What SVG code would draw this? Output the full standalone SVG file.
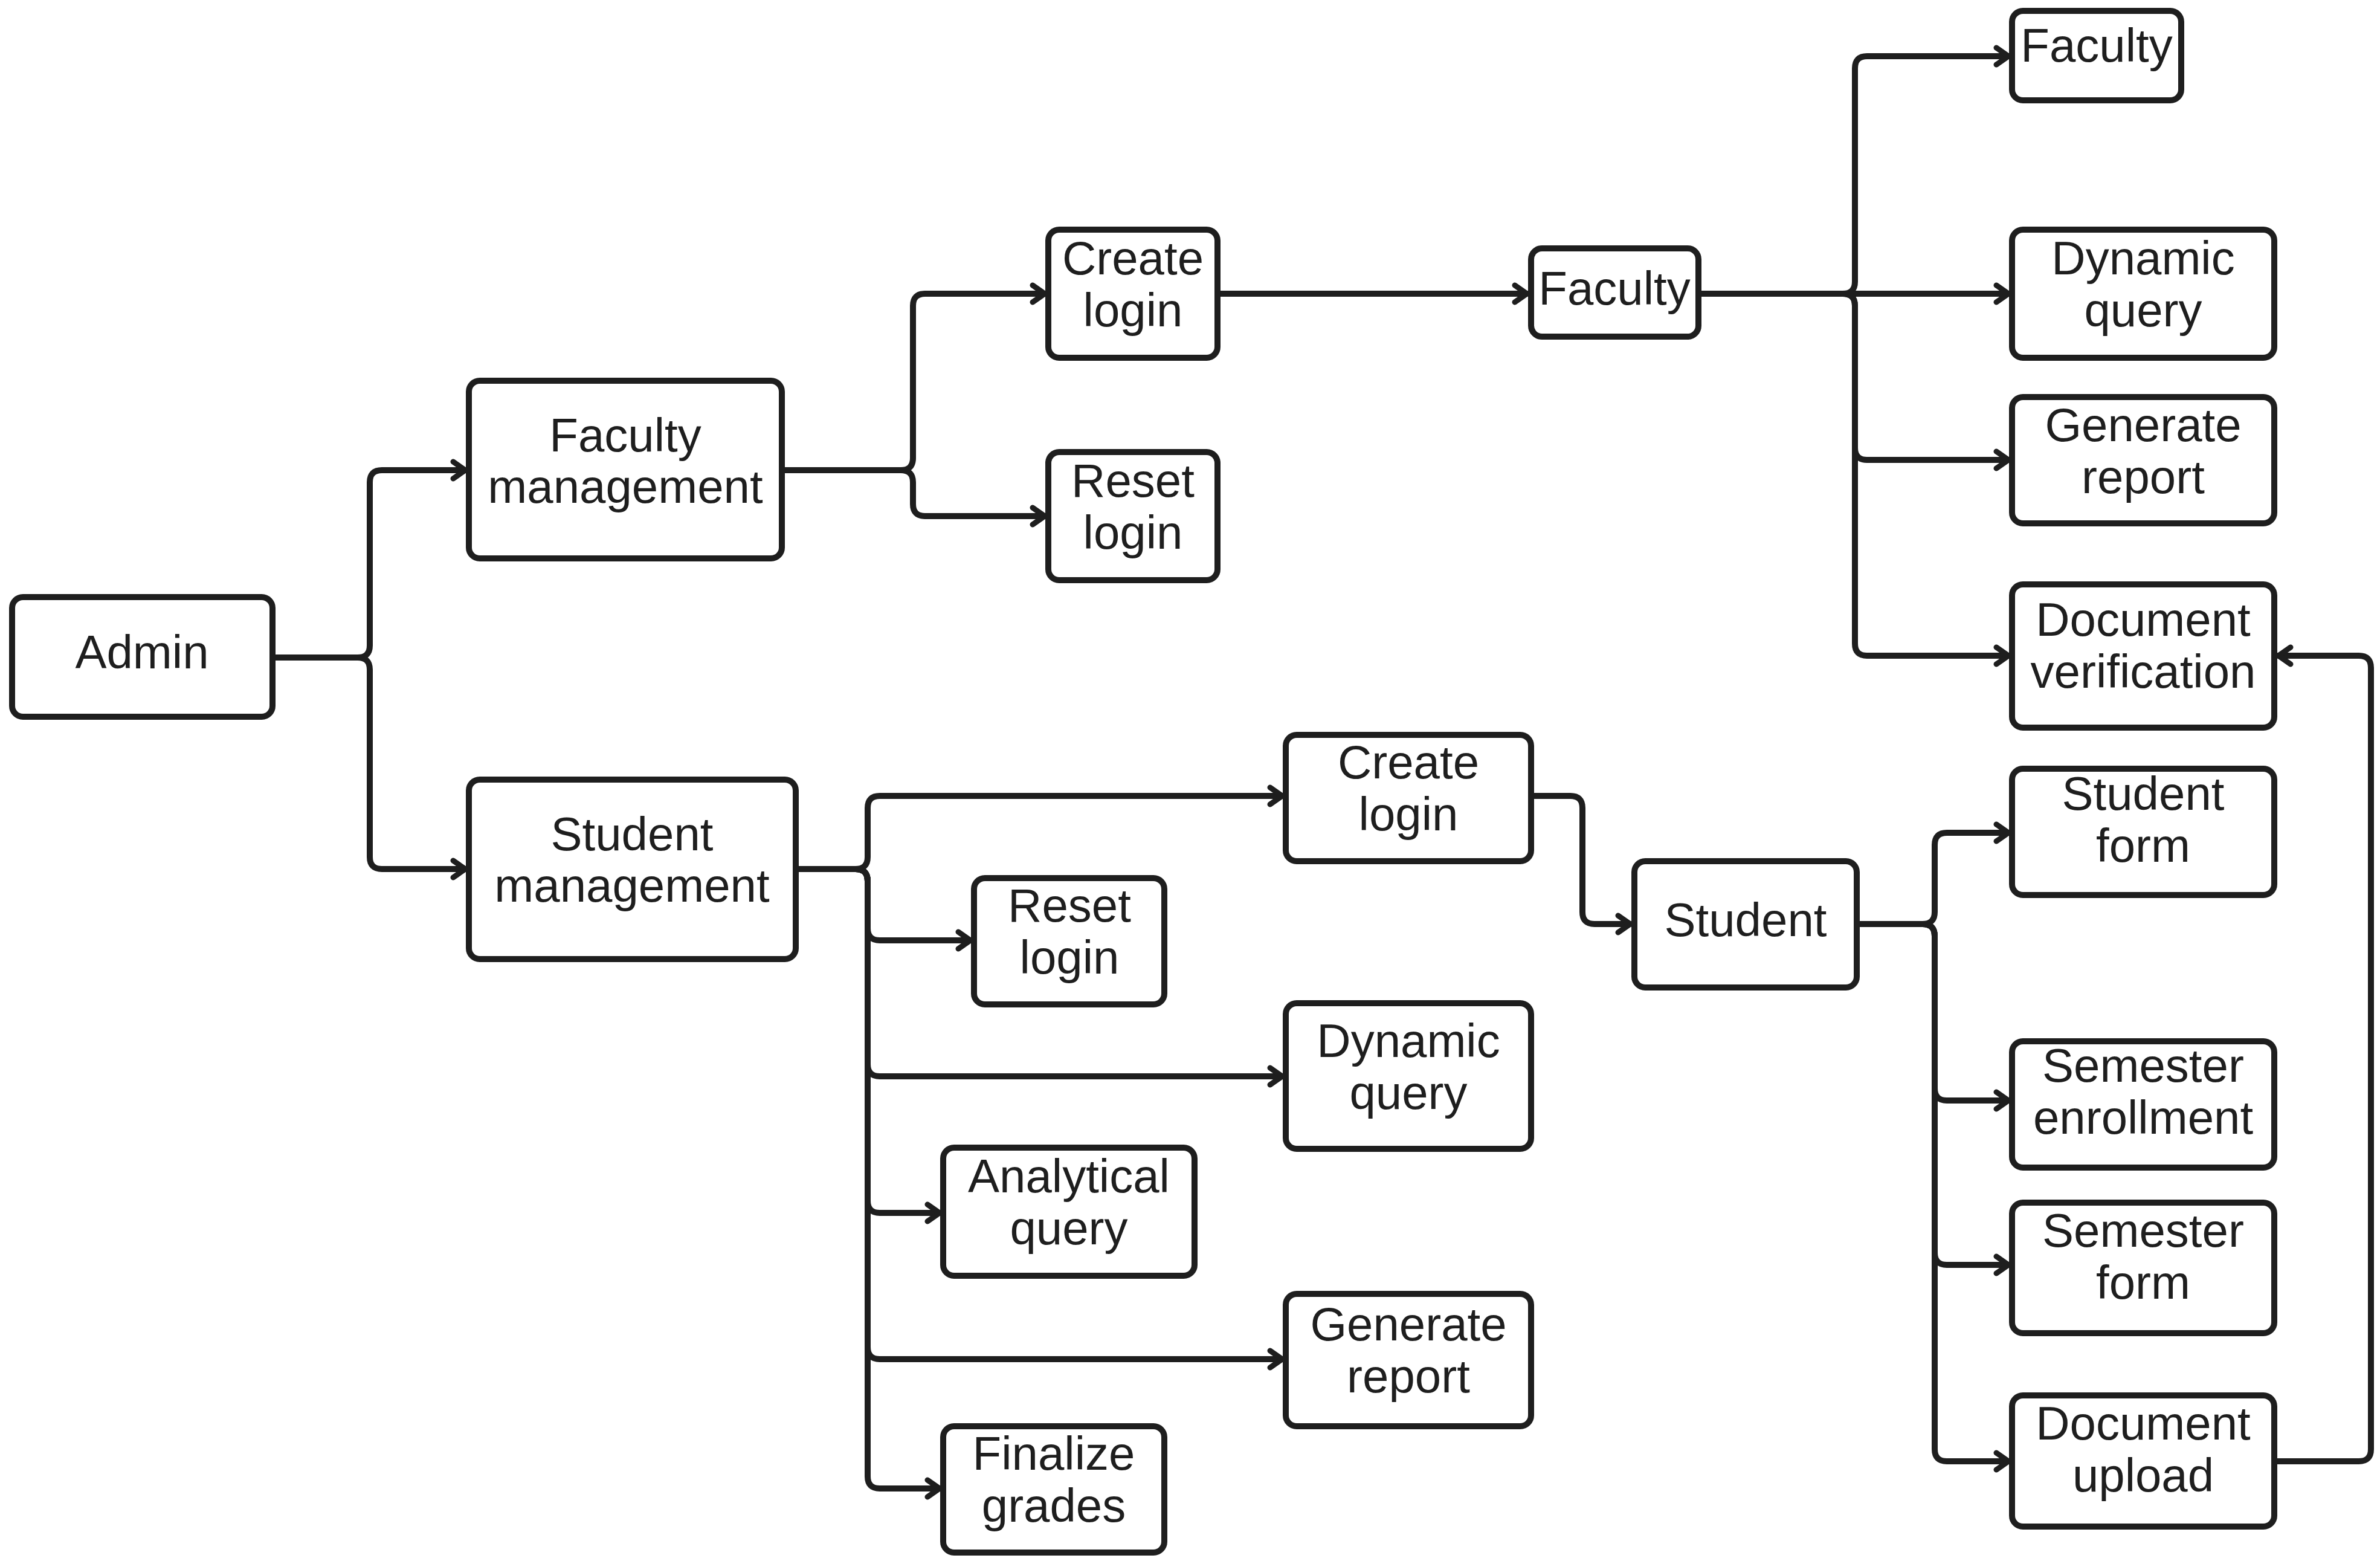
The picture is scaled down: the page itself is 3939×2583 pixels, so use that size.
<svg xmlns="http://www.w3.org/2000/svg" width="3939" height="2583" viewBox="0 0 3939 2583">
<style>
.box{fill:#ffffff;stroke:#1e1e1e;stroke-width:10;stroke-linejoin:round}
.t{font-family:"Liberation Sans",Arial,sans-serif;font-size:78px;fill:#1e1e1e;text-anchor:middle}
.c{fill:none;stroke:#1e1e1e;stroke-width:10;stroke-linecap:round;stroke-linejoin:round;marker-end:url(#arr)}
</style>
<defs>
<marker id="arr" viewBox="0 0 30 40" refX="26" refY="20" markerWidth="30" markerHeight="40" markerUnits="userSpaceOnUse" orient="auto">
<path d="M6,6 L26,20 L6,34" fill="none" stroke="#1e1e1e" stroke-width="9" stroke-linecap="round" stroke-linejoin="round"/>
</marker>
</defs>
<rect width="3939" height="2583" fill="#ffffff"/>
<g id="connectors">
<path class="c" d="M451,1088 H592 Q612,1088 612,1068 V798 Q612,778 632,778 H770"/>
<path class="c" d="M451,1088 H592 Q612,1088 612,1108 V1418 Q612,1438 632,1438 H770"/>
<path class="c" d="M1294,778 H1491 Q1511,778 1511,758 V506 Q1511,486 1531,486 H1729"/>
<path class="c" d="M1294,778 H1491 Q1511,778 1511,798 V834 Q1511,854 1531,854 H1729"/>
<path class="c" d="M2015,486 H2527"/>
<path class="c" d="M2811,486 H3050 Q3070,486 3070,466 V113 Q3070,93 3090,93 H3324"/>
<path class="c" d="M2811,486 H3324"/>
<path class="c" d="M2811,486 H3050 Q3070,486 3070,506 V741 Q3070,761 3090,761 H3324"/>
<path class="c" d="M2811,486 H3050 Q3070,486 3070,506 V1065 Q3070,1085 3090,1085 H3324"/>
<path class="c" d="M1317,1438 H1416 Q1436,1438 1436,1418 V1337 Q1436,1317 1456,1317 H2122"/>
<path class="c" d="M1317,1438 H1416 Q1436,1438 1436,1458 V1536 Q1436,1556 1456,1556 H1606"/>
<path class="c" d="M1317,1438 H1416 Q1436,1438 1436,1458 V1761 Q1436,1781 1456,1781 H2122"/>
<path class="c" d="M1317,1438 H1416 Q1436,1438 1436,1458 V1987 Q1436,2007 1456,2007 H1555"/>
<path class="c" d="M1317,1438 H1416 Q1436,1438 1436,1458 V2229 Q1436,2249 1456,2249 H2122"/>
<path class="c" d="M1317,1438 H1416 Q1436,1438 1436,1458 V2443 Q1436,2463 1456,2463 H1555"/>
<path class="c" d="M2534,1317 H2599 Q2619,1317 2619,1337 V1509 Q2619,1529 2639,1529 H2698"/>
<path class="c" d="M3073,1529 H3182 Q3202,1529 3202,1509 V1398 Q3202,1378 3222,1378 H3324"/>
<path class="c" d="M3073,1529 H3182 Q3202,1529 3202,1549 V1801 Q3202,1821 3222,1821 H3324"/>
<path class="c" d="M3073,1529 H3182 Q3202,1529 3202,1549 V2073 Q3202,2093 3222,2093 H3324"/>
<path class="c" d="M3073,1529 H3182 Q3202,1529 3202,1549 V2398 Q3202,2418 3222,2418 H3324"/>
<path class="c" d="M3764,2418 H3904 Q3924,2418 3924,2398 V1105 Q3924,1085 3904,1085 H3771"/>
</g>
<g id="admin"><rect class="box" x="20" y="988" width="431" height="198" rx="18"/><text class="t" x="235" y="1106">Admin</text></g>
<g id="faculty-management"><rect class="box" x="776" y="630" width="518" height="294" rx="18"/><text class="t" x="1035" y="747">Faculty</text><text class="t" x="1035" y="832">management</text></g>
<g id="student-management"><rect class="box" x="776" y="1290" width="541" height="297" rx="18"/><text class="t" x="1046" y="1407">Student</text><text class="t" x="1046" y="1492">management</text></g>
<g id="create-login-faculty"><rect class="box" x="1735" y="380" width="280" height="212" rx="18"/><text class="t" x="1875" y="454">Create</text><text class="t" x="1875" y="540">login</text></g>
<g id="reset-login-faculty"><rect class="box" x="1735" y="748" width="280" height="212" rx="18"/><text class="t" x="1875" y="822">Reset</text><text class="t" x="1875" y="908">login</text></g>
<g id="faculty"><rect class="box" x="2534" y="411" width="277" height="146" rx="18"/><text class="t" x="2672" y="504">Faculty</text></g>
<g id="faculty-portal"><rect class="box" x="3330" y="18" width="280" height="148" rx="18"/><text class="t" x="3470" y="102">Faculty</text></g>
<g id="dynamic-query-faculty"><rect class="box" x="3330" y="380" width="434" height="212" rx="18"/><text class="t" x="3547" y="454">Dynamic</text><text class="t" x="3547" y="540">query</text></g>
<g id="generate-report-faculty"><rect class="box" x="3330" y="657" width="434" height="209" rx="18"/><text class="t" x="3547" y="730">Generate</text><text class="t" x="3547" y="816">report</text></g>
<g id="document-verification"><rect class="box" x="3330" y="967" width="434" height="237" rx="18"/><text class="t" x="3547" y="1052">Document</text><text class="t" x="3547" y="1138">verification</text></g>
<g id="create-login-student"><rect class="box" x="2128" y="1216" width="406" height="209" rx="18"/><text class="t" x="2331" y="1288">Create</text><text class="t" x="2331" y="1374">login</text></g>
<g id="reset-login-student"><rect class="box" x="1612" y="1453" width="315" height="209" rx="18"/><text class="t" x="1770" y="1525">Reset</text><text class="t" x="1770" y="1611">login</text></g>
<g id="dynamic-query-student"><rect class="box" x="2128" y="1660" width="406" height="241" rx="18"/><text class="t" x="2331" y="1749">Dynamic</text><text class="t" x="2331" y="1835">query</text></g>
<g id="analytical-query"><rect class="box" x="1561" y="1899" width="416" height="212" rx="18"/><text class="t" x="1769" y="1973">Analytical</text><text class="t" x="1769" y="2059">query</text></g>
<g id="generate-report-student"><rect class="box" x="2128" y="2141" width="406" height="219" rx="18"/><text class="t" x="2331" y="2218">Generate</text><text class="t" x="2331" y="2304">report</text></g>
<g id="finalize-grades"><rect class="box" x="1561" y="2360" width="366" height="209" rx="18"/><text class="t" x="1744" y="2432">Finalize</text><text class="t" x="1744" y="2518">grades</text></g>
<g id="student"><rect class="box" x="2705" y="1425" width="368" height="209" rx="18"/><text class="t" x="2889" y="1549">Student</text></g>
<g id="student-form"><rect class="box" x="3330" y="1272" width="434" height="209" rx="18"/><text class="t" x="3547" y="1340">Student</text><text class="t" x="3547" y="1426">form</text></g>
<g id="semester-enrollment"><rect class="box" x="3330" y="1723" width="434" height="209" rx="18"/><text class="t" x="3547" y="1790">Semester</text><text class="t" x="3547" y="1876">enrollment</text></g>
<g id="semester-form"><rect class="box" x="3330" y="1990" width="434" height="216" rx="18"/><text class="t" x="3547" y="2063">Semester</text><text class="t" x="3547" y="2149">form</text></g>
<g id="document-upload"><rect class="box" x="3330" y="2309" width="434" height="217" rx="18"/><text class="t" x="3547" y="2382">Document</text><text class="t" x="3547" y="2468">upload</text></g>
</svg>
